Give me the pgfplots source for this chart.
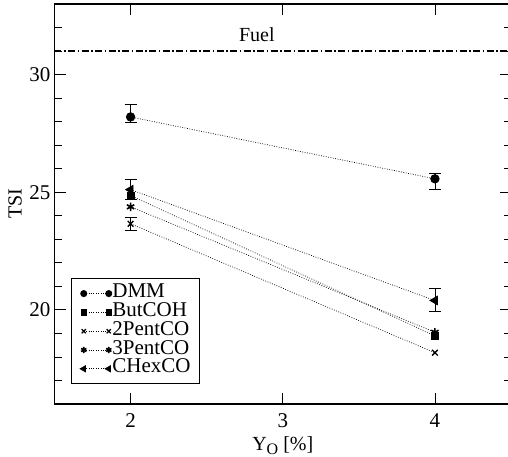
\documentclass[border=0pt]{standalone}
\usepackage{fontspec}
\setmainfont{Liberation Serif}
\usepackage{pgfplots}
\pgfplotsset{compat=1.18}
\begin{document}
\begin{tikzpicture}
\begin{axis}[
  scale only axis, width=456.5pt, height=400pt,
  at={(0pt,0pt)}, anchor=south west,
  xmin=1.5, xmax=4.5, ymin=16, ymax=33,
  xtick={2,3,4}, ytick={20,25,30}, minor ytick={17,18,19,21,22,23,24,26,27,28,29,31,32},
  tick align=inside, major tick length=11pt, minor tick length=7pt,
  axis line style={line width=1.6pt},
  every tick/.style={black, line width=0.8pt},
  /pgf/number format/assume math mode=true,
  tick label style={font=\fontsize{21}{21}\selectfont},
  yticklabel style={inner sep=0pt, xshift=-4pt},
  xticklabel style={inner sep=0pt, yshift=-9pt},
  xlabel={Y\raisebox{-4.5pt}{\fontsize{16}{16}\selectfont O} [\%]},
  ylabel={TSI},
  label style={font=\fontsize{20}{20}\selectfont},
  xlabel style={at={(axis description cs:0.5,-0.116)}, anchor=base},
  ylabel style={at={(axis description cs:-0.0865,0.5)}, anchor=center},
  legend style={at={(axis description cs:0.0368,0.05)}, anchor=south west,
    draw=black, line width=0.6pt, font=\fontsize{21}{21}\selectfont,
    inner xsep=8.5pt, inner ysep=5.5pt, row sep=0pt,
    nodes={inner sep=0.5pt, text height=13.1pt, text depth=4.7pt}},
  legend cell align=left,
  legend image code/.code={\draw[#1, every mark/.append style={scale=0.73}] plot coordinates {(0pt,0pt) (25pt,0pt)};},
  every axis plot/.append style={black, line width=0.7pt, dash pattern=on 0.8pt off 1.6pt},
]
% Fuel reference line
\addplot[forget plot, black, line width=1.2pt, dash pattern=on 7pt off 2.5pt on 1.5pt off 2.5pt, mark=none]
  coordinates {(1.5,31) (4.5,31)};
\node[anchor=base, font=\fontsize{20}{20}\selectfont] at (axis cs:2.83,31.4) {Fuel};

% error bars
\pgfplotsset{errstyle/.style={forget plot, draw=none, mark=none,
  error bars/.cd, y dir=both, y explicit,
  error bar style={draw=black, solid, line width=0.8pt},
  error mark options={draw=black, solid, rotate=90, mark size=6pt, line width=0.8pt}}}
\addplot[errstyle] coordinates {(2,28.2) += (0,0.52) -= (0,0.22) (4,25.57) += (0,0.23) -= (0,0.47)};
\addplot[errstyle] coordinates {(2,23.66) += (0,0.28) -= (0,0.27)};
\addplot[errstyle] coordinates {(2,25.11) += (0,0.43) -= (0,0.4) (4,20.4) += (0,0.5) -= (0,0.46)};

\addplot[mark=*, mark size=4.3pt, mark options={solid, fill=black}] coordinates {(2,28.2) (4,25.57)};
\addlegendentry{DMM}
\addplot[mark=square*, mark size=3.6pt, mark options={solid, fill=black}] coordinates {(2,24.86) (4,18.9)};
\addlegendentry{ButCOH}
\addplot[mark=x, mark size=4pt, mark options={solid, line width=1.3pt}] coordinates {(2,23.66) (4,18.18)};
\addlegendentry{2PentCO}
\addplot[mark=asterisk, mark size=4.2pt, mark options={solid, line width=1.6pt}] coordinates {(2,24.38) (4,19.05)};
\addlegendentry{3PentCO}
\addplot[mark=triangle*, mark size=5pt, mark options={solid, fill=black, rotate=90}] coordinates {(2,25.11) (4,20.4)};
\addlegendentry{CHexCO}
\end{axis}
\pgfresetboundingbox
\useasboundingbox (-54.5pt,-53pt) rectangle (453.5pt,404pt);
\end{tikzpicture}
\end{document}
